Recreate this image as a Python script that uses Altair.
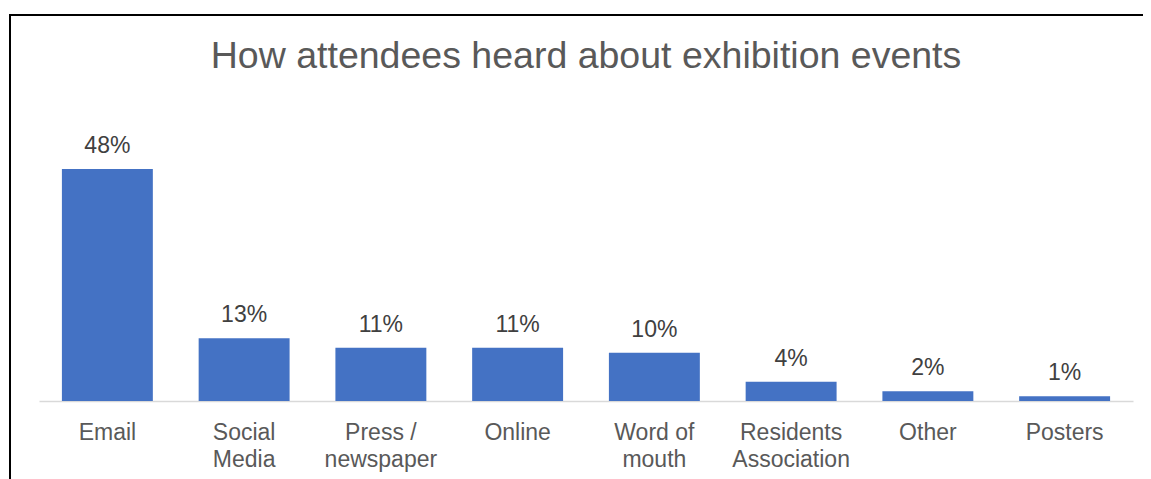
import altair as alt
import pandas as pd

categories = ["Email", "Social\nMedia", "Press /\nnewspaper", "Online", "Word of\nmouth",
              "Residents\nAssociation", "Other", "Posters"]
values = [48, 13, 11, 11, 10, 4, 2, 1]
labels = ["48%", "13%", "11%", "11%", "10%", "4%", "2%", "1%"]

df = pd.DataFrame({"cat": categories, "val": values, "lab": labels})

FONT = "Liberation Sans"

x_enc = alt.X("cat:N", sort=categories,
              scale=alt.Scale(paddingInner=0.335, paddingOuter=0.1675),
              axis=alt.Axis(title=None, labelAngle=0, ticks=False, labelPadding=38,
                            labelBaseline="alphabetic",
                            labelExpr="split(datum.label, '\\n')",
                            labelLineHeight=27, labelFontSize=23, labelFont=FONT,
                            labelColor="#595959", domainColor="#D9D9D9", domainWidth=1.5,
                            labelLimit=300))
y_enc = alt.Y("val:Q", scale=alt.Scale(domain=[0, 60], nice=False), axis=None)

bars = alt.Chart(df).mark_bar(color="#4472C4").encode(x=x_enc, y=y_enc)

text = alt.Chart(df).mark_text(baseline="alphabetic", dy=-16, fontSize=23, font=FONT,
                               color="#404040").encode(x=alt.X("cat:N", sort=categories),
                                                       y="val:Q", text="lab:N")

frame_src = alt.Data(values=[{"k": 0}])
top_line = alt.Chart(frame_src).mark_rule(color="#000000", strokeWidth=2).encode(
    x=alt.value(-30), x2=alt.value(1200), y=alt.value(-96))
left_line = alt.Chart(frame_src).mark_rule(color="#000000", strokeWidth=2).encode(
    x=alt.value(-29), y=alt.value(-96), y2=alt.value(600))

chart = alt.layer(bars, text, top_line, left_line).properties(
    width=1094, height=290,
    title=alt.TitleParams(text="How attendees heard about exhibition events", fontSize=37.5,
                          font=FONT, color="#595959", fontWeight="normal", anchor="middle",
                          frame="group", baseline="alphabetic", offset=0, dy=91),
    autosize=alt.AutoSizeParams(type="none"),
    padding={"left": 31, "top": 103, "right": 10, "bottom": 78},
).configure_view(stroke=None)

chart.save("out.html", embed_options={"renderer": "svg", "actions": False})
